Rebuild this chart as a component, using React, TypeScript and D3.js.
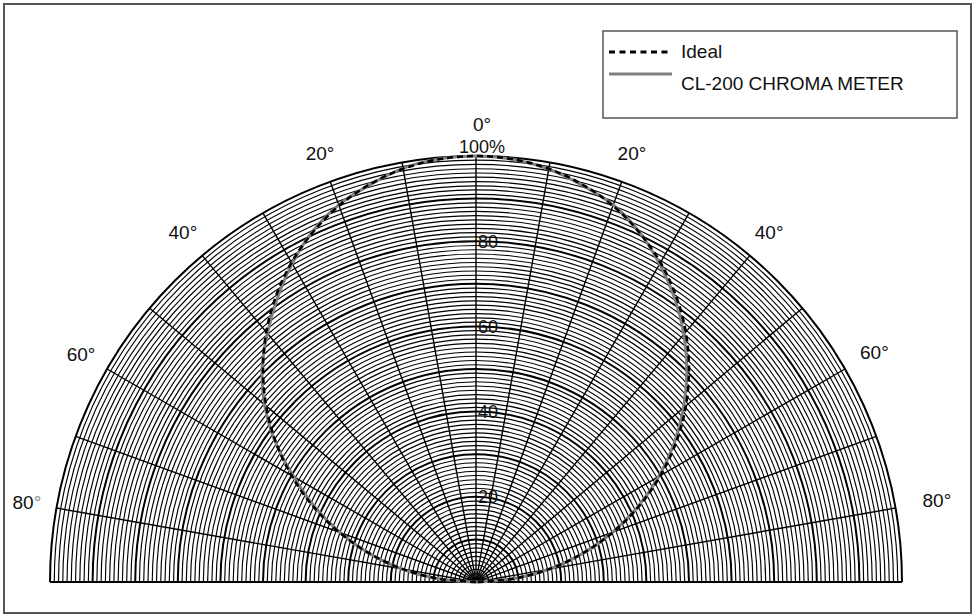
import React from "react";
import * as d3 from "d3";

const angles = [-90, -85, -80, -75, -70, -65, -60, -55, -50, -45, -40, -35, -30, -25, -20, -15, -10, -5, 0, 5, 10, 15, 20, 25, 30, 35, 40, 45, 50, 55, 60, 65, 70, 75, 80, 85, 90];
const idealValues = [0, 8.7, 17.4, 25.9, 34.2, 42.3, 50.0, 57.4, 64.3, 70.7, 76.6, 81.9, 86.6, 90.6, 94.0, 96.6, 98.5, 99.6, 100, 99.6, 98.5, 96.6, 94.0, 90.6, 86.6, 81.9, 76.6, 70.7, 64.3, 57.4, 50.0, 42.3, 34.2, 25.9, 17.4, 8.7, 0];
const cl200Values = [0, 9.0, 17.8, 26.1, 34.0, 41.8, 49.4, 57.6, 64.8, 71.0, 76.2, 81.3, 86.3, 90.8, 94.2, 96.5, 98.6, 99.7, 100, 99.6, 98.4, 96.4, 94.2, 90.7, 86.2, 81.3, 75.9, 70.0, 63.6, 56.8, 49.6, 42.0, 34.1, 26.0, 17.6, 8.9, 0];
const radialTicks = [20, 40, 60, 80];
const angleLabels = [
  { a: -20, t: "20°" }, { a: 20, t: "20°" },
  { a: -40, t: "40°" }, { a: 40, t: "40°" },
  { a: -60, t: "60°" }, { a: 60, t: "60°" },
  { a: -80, t: "80°" }, { a: 80, t: "80°" },
];
const seriesNames = ["Ideal", "CL-200 CHROMA METER"];

const W = 977, H = 615;
const cx = 476, cy = 582, R = 426;
const FONT = "'Liberation Sans', Arial, Helvetica, sans-serif";

export default function App() {
  const r = d3.scaleLinear().domain([0, 100]).range([0, R]);
  const ang = d3.scaleLinear().domain([-90, 90]).range([-Math.PI / 2, Math.PI / 2]);

  const arc = d3.arc<number>()
    .innerRadius((d) => r(d))
    .outerRadius((d) => r(d))
    .startAngle(ang(-90))
    .endAngle(ang(90));

  const circles = d3.range(1, 101);
  const spokes = d3.range(-80, 81, 10);

  const line = d3.lineRadial<number>()
    .angle((_, i) => ang(angles[i]))
    .radius((d) => r(d))
    .curve(d3.curveCatmullRom);

  const pt = (a: number, rad: number) => {
    const t = ang(a);
    return [cx + rad * Math.sin(t), cy - rad * Math.cos(t)];
  };

  return (
    <svg width={W} height={H} style={{ position: "absolute", left: 0, top: 0, background: "#fff" }} fontFamily={FONT}>
      <rect x={4} y={4} width={967} height={609} fill="white" stroke="#555" strokeWidth={2} />
      <g transform={`translate(${cx},${cy})`}>
        {circles.map((c) => (
          <path key={c} d={arc(c) || ""} fill="none" stroke="#000"
            strokeWidth={c % 10 === 0 ? 2 : 1.15} />
        ))}
        {spokes.map((s) => {
          const [x, y] = pt(s, R);
          return <line key={s} x1={0} y1={0} x2={x - cx} y2={y - cy} stroke="#000" strokeWidth={1.4} />;
        })}
        <line x1={-R} y1={0} x2={R} y2={0} stroke="#000" strokeWidth={2.2} />
        <path d={line(cl200Values) || ""} fill="none" stroke="#808080" strokeWidth={3} />
        <path d={line(idealValues) || ""} fill="none" stroke="#000" strokeWidth={2.6} strokeDasharray="6,4" />
      </g>
      {radialTicks.map((v) => (
        <text key={v} x={cx + 2} y={cy - r(v)} dy="0.35em" fontSize={18} fill="#111">{v}</text>
      ))}
      <text x={482} y={124} dy="0.35em" textAnchor="middle" fontSize={19} fill="#111">0°</text>
      <text x={482} y={147} dy="0.35em" textAnchor="middle" fontSize={18} fill="#111">100%</text>
      {angleLabels.map((l, i) => {
        const [x, y] = pt(l.a, l.a === 80 ? 468 : l.a === 60 ? 460 : 456);
        const num = l.t.replace("°", "");
        return (
          <text key={i} x={x} y={y} dy="0.35em" textAnchor="middle" fontSize={19} fill="#111">
            {num}
            <tspan fill={l.a === -80 ? "#888" : "#111"}>°</tspan>
          </text>
        );
      })}
      <rect x={603} y={31} width={354} height={87} fill="white" stroke="#555" strokeWidth={1.5} />
      <line x1={609} y1={52} x2={672} y2={52} stroke="#000" strokeWidth={3} strokeDasharray="6,4.5" />
      <text x={681} y={51} dy="0.35em" fontSize={19} fill="#111">{seriesNames[0]}</text>
      <line x1={609} y1={74} x2={672} y2={74} stroke="#808080" strokeWidth={3} />
      <text x={681} y={83} dy="0.35em" fontSize={19} fill="#111">{seriesNames[1]}</text>
    </svg>
  );
}
